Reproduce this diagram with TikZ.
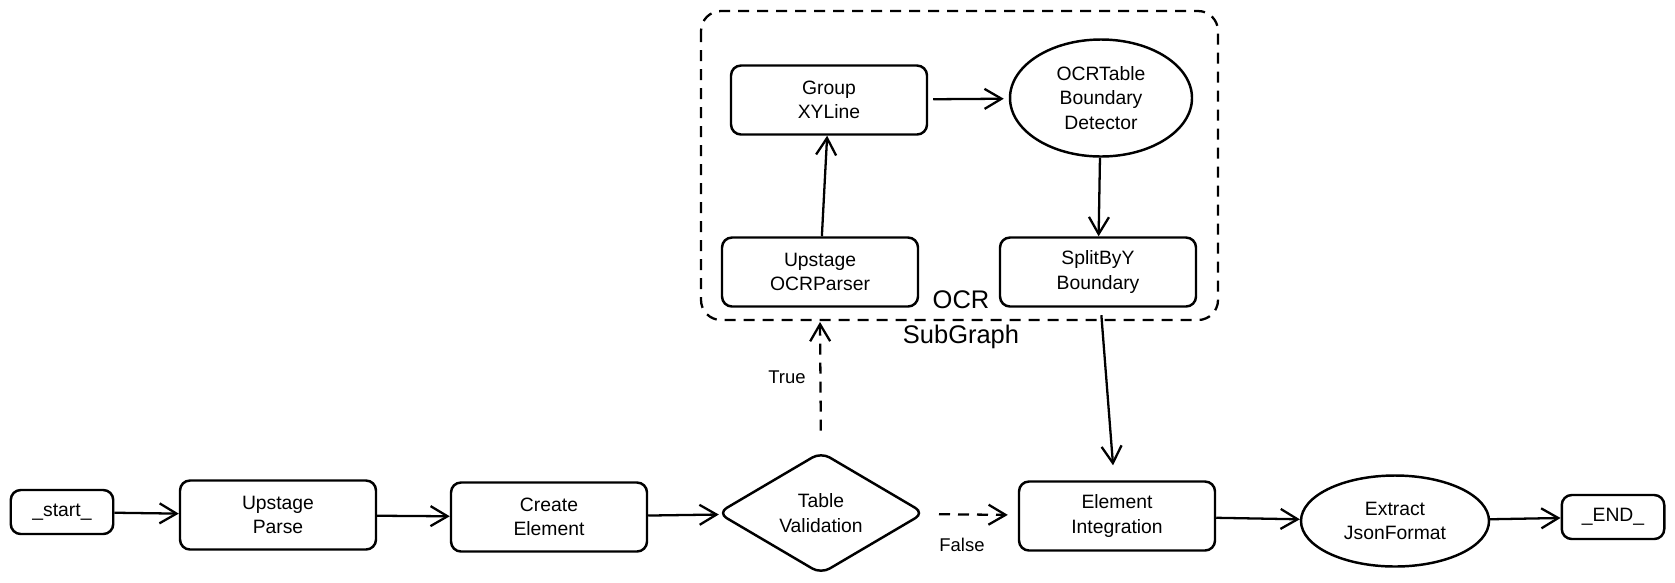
\documentclass[tikz,border=0pt]{standalone}
\usepackage{fontspec}
\setmainfont{Liberation Sans}
\usetikzlibrary{positioning, arrows.meta, shapes.geometric}

\tikzset{
    procbox/.style={draw, rounded corners=2mm, line width=1.4pt, align=center,
        minimum width=39.2mm, minimum height=13.8mm, inner sep=1mm,
        font=\fontsize{11}{14}\selectfont},
    endbox/.style={procbox, minimum width=20.5mm, minimum height=8.8mm},
    ovalbox/.style={draw, ellipse, line width=1.4pt, align=center, inner sep=0pt,
        font=\fontsize{11}{14}\selectfont},
    decisionbox/.style={draw, diamond, line width=1.4pt, align=center, inner sep=0pt,
        rounded corners=2mm, minimum width=41.4mm, minimum height=22.2mm,
        font=\fontsize{11}{14}\selectfont},
    flowarrow/.style={line width=1.3pt,
        -{Straight Barb[length=3.4mm, width=4mm, line width=1.3pt]}},
    condarrow/.style={flowarrow, dash pattern=on 2.2mm off 1.6mm},
    condlabel/.style={font=\fontsize{10.5}{12}\selectfont}
}

\begin{document}
\begin{tikzpicture}[x=0.2mm, y=-0.2mm]
    \useasboundingbox (0,0) rectangle (1675,582);

    % OCR subgraph frame
    \draw[line width=1.3pt, dash pattern=on 2.2mm off 1.6mm, rounded corners=4mm]
        (701,11) rectangle (1218,320);
    \coordinate (ocrbottom) at (820,322);
    \node[align=center, font=\fontsize{14.5}{20}\selectfont] (ocrlabel) at (961,320)
        {OCR\\SubGraph};

    % nodes inside the subgraph
    \node[procbox] (group) at (829,100) {Group\\XYLine};
    \node[ovalbox, minimum width=36.4mm, minimum height=23.4mm] (ocrtab) at (1101,98)
        {OCRTable\\Boundary\\Detector};
    \node[procbox] (ocrparser) at (820,272) {Upstage\\OCRParser};
    \node[procbox] (splitby) at (1098,272) {SplitByY\\Boundary};

    % main flow
    \node[endbox] (start) at (62,512) {\_start\_};
    \node[procbox] (upparse) at (278,515) {Upstage\\Parse};
    \node[procbox] (create) at (549,517) {Create\\Element};
    \node[decisionbox] (valid) at (821,513) {Table\\Validation};
    \node[procbox] (integ) at (1117,516) {Element\\Integration};
    \node[ovalbox, minimum width=37.6mm, minimum height=18.2mm] (extract) at (1395,521)
        {Extract\\JsonFormat};
    \node[endbox] (finish) at (1613,517) {\_END\_};

    % connectors
    \draw[flowarrow] (start) -- (upparse);
    \draw[flowarrow] (upparse) -- (create);
    \draw[flowarrow] (create) -- (valid);
    \draw[condarrow, shorten <=4mm] (valid.north) -- (ocrbottom);
    \draw[condarrow, shorten <=3mm, shorten >=2mm] (valid) -- (integ);
    \draw[flowarrow] (ocrparser) -- (group);
    \draw[flowarrow, shorten <=1mm, shorten >=1mm] (group) -- (ocrtab);
    \draw[flowarrow] (ocrtab) -- (splitby);
    \draw[flowarrow, shorten <=1.5mm, shorten >=3mm] (splitby) -- (integ);
    \draw[flowarrow] (integ) -- (extract);
    \draw[flowarrow] (extract) -- (finish);

    % branch labels
    \node[condlabel] (truelabel) at (787,377) {True};
    \node[condlabel] (falselabel) at (962,545) {False};
\end{tikzpicture}
\end{document}
